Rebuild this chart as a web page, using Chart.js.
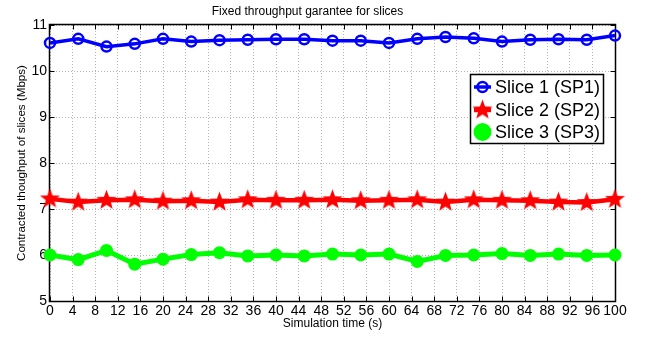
<!DOCTYPE html>
<html>
<head>
<meta charset="utf-8">
<script src="https://cdn.jsdelivr.net/npm/chart.js@4/dist/chart.umd.min.js"></script>
<style>
  body { margin: 0; background: #fff; }
</style>
</head>
<body>
<canvas id="grafico" width="651" height="337"></canvas>
<script>
const tiempos = [0, 5, 10, 15, 20, 25, 30, 35, 40, 45, 50, 55, 60, 65, 70, 75, 80, 85, 90, 95, 100];
const slice1 = [10.61, 10.70, 10.53, 10.59, 10.70, 10.64, 10.67, 10.68, 10.69, 10.69, 10.66, 10.66, 10.61, 10.70, 10.74, 10.71, 10.64, 10.68, 10.69, 10.68, 10.77];
const slice2 = [7.22, 7.15, 7.19, 7.20, 7.17, 7.18, 7.15, 7.20, 7.19, 7.19, 7.20, 7.18, 7.19, 7.20, 7.15, 7.20, 7.19, 7.18, 7.15, 7.14, 7.21];
const slice3 = [6.00, 5.90, 6.10, 5.80, 5.91, 6.01, 6.05, 5.98, 6.00, 5.98, 6.02, 6.00, 6.02, 5.86, 5.99, 6.00, 6.03, 5.99, 6.02, 5.99, 6.00];
const etiquetas = ["Slice 1 (SP1)", "Slice 2 (SP2)", "Slice 3 (SP3)"];

const FUENTE = "'Liberation Sans', Arial, sans-serif";

// estrella rellena de 5 puntas para la serie 2
function crearEstrella(r) {
  const c = document.createElement("canvas");
  const s = Math.ceil(r * 2 + 2);
  c.width = s; c.height = s;
  const g = c.getContext("2d");
  const ri = r * 0.42;
  g.beginPath();
  for (let i = 0; i < 10; i++) {
    const rad = i % 2 === 0 ? r : ri;
    const a = -Math.PI / 2 + i * Math.PI / 5;
    const px = s / 2 + rad * Math.cos(a);
    const py = s / 2 + rad * Math.sin(a);
    if (i === 0) g.moveTo(px, py); else g.lineTo(px, py);
  }
  g.closePath();
  g.fillStyle = "#ff0000";
  g.fill();
  return c;
}
const estrella = crearEstrella(10.5);

const serie = (vals) => tiempos.map((t, i) => ({ x: t, y: vals[i] }));

// marco negro con marcas hacia dentro (estilo matlab)
const marco = {
  id: "marco",
  beforeDatasetsDraw(chart) {
    const { ctx, chartArea: a, scales: { x, y } } = chart;
    const L = Math.round(a.left) - 0.5, R = Math.round(a.right) + 0.5;
    const T = Math.round(a.top) - 0.5, B = Math.round(a.bottom) + 0.5;
    ctx.save();
    ctx.strokeStyle = "#000";
    ctx.lineWidth = 1;
    ctx.beginPath();
    x.ticks.forEach(t => {
      const px = Math.round(x.getPixelForValue(t.value)) + 0.5;
      ctx.moveTo(px, B); ctx.lineTo(px, B - 5);
      ctx.moveTo(px, T); ctx.lineTo(px, T + 5);
    });
    y.ticks.forEach(t => {
      const py = Math.round(y.getPixelForValue(t.value)) + 0.5;
      ctx.moveTo(L, py); ctx.lineTo(L + 5, py);
      ctx.moveTo(R, py); ctx.lineTo(R - 5, py);
    });
    ctx.stroke();
    ctx.lineWidth = 1.5;
    ctx.strokeRect(L, T, R - L, B - T);
    ctx.restore();
  }
};

// leyenda dentro del area, como en la figura
const leyenda = {
  id: "leyenda",
  afterDraw(chart) {
    const { ctx } = chart;
    const bx = 470, by = 74, bw = 133, bh = 69;
    ctx.save();
    ctx.fillStyle = "#fff";
    ctx.fillRect(bx, by, bw, bh);
    ctx.strokeStyle = "#000";
    ctx.lineWidth = 1.5;
    ctx.strokeRect(bx + 0.5, by + 0.5, bw, bh);
    const filas = [87, 110, 132];
    chart.data.datasets.forEach((ds, i) => {
      const cy = filas[i];
      ctx.strokeStyle = ds.borderColor;
      ctx.lineWidth = ds.borderWidth;
      ctx.beginPath();
      ctx.moveTo(474, cy); ctx.lineTo(491, cy);
      ctx.stroke();
      if (ds.pointStyle === "circle") {
        ctx.beginPath();
        ctx.arc(482.5, cy, ds.pointRadius, 0, Math.PI * 2);
        ctx.fillStyle = ds.pointBackgroundColor;
        ctx.fill();
        ctx.lineWidth = ds.pointBorderWidth;
        ctx.strokeStyle = ds.pointBorderColor;
        ctx.stroke();
      } else {
        ctx.drawImage(ds.pointStyle, 482.5 - ds.pointStyle.width / 2, cy - ds.pointStyle.height / 2);
      }
      ctx.fillStyle = "#000";
      ctx.font = "18px " + FUENTE;
      ctx.textBaseline = "middle";
      ctx.textAlign = "left";
      ctx.fillText(etiquetas[i], 495, cy + 1);
    });
    ctx.restore();
  }
};

new Chart(document.getElementById("grafico"), {
  type: "line",
  data: {
    datasets: [
      {
        label: etiquetas[0],
        data: serie(slice1),
        borderColor: "#0000ff",
        borderWidth: 3.5,
        pointStyle: "circle",
        pointRadius: 5,
        pointBorderWidth: 2.5,
        pointBorderColor: "#0000ff",
        pointBackgroundColor: "rgba(255,255,255,0)",
        clip: false,
      },
      {
        label: etiquetas[1],
        data: serie(slice2),
        borderColor: "#ff0000",
        borderWidth: 4.5,
        pointStyle: estrella,
        pointRadius: 10,
        clip: false,
      },
      {
        label: etiquetas[2],
        data: serie(slice3),
        borderColor: "#00ff00",
        borderWidth: 5,
        pointStyle: "circle",
        pointRadius: 6.5,
        pointBorderWidth: 0,
        pointBorderColor: "#00ff00",
        pointBackgroundColor: "#00ff00",
        clip: false,
      },
    ],
  },
  options: {
    responsive: false,
    animation: false,
    layout: { padding: { left: 0, right: 36, top: 0, bottom: 0 } },
    scales: {
      x: {
        type: "linear",
        min: 0,
        max: 100,
        ticks: { stepSize: 4, color: "#000", padding: 2, maxRotation: 0, autoSkip: false, font: { family: FUENTE, size: 14 } },
        grid: { color: "#b4b4b4", drawTicks: false, lineWidth: 1 },
        border: { display: false, dash: [1, 2] },
        title: { display: true, text: "Simulation time (s)", color: "#000", font: { family: FUENTE, size: 12 }, padding: { top: 0, bottom: 6 } },
        afterFit: (s) => { s.height = 36; },
      },
      y: {
        min: 5,
        max: 11,
        ticks: { stepSize: 1, color: "#000", padding: 3, font: { family: FUENTE, size: 14 } },
        grid: { color: "#b4b4b4", drawTicks: false, lineWidth: 1 },
        border: { display: false, dash: [1, 2] },
        title: { display: true, text: "Contracted thoughput of slices (Mbps)", color: "#000", font: { family: FUENTE, size: 11.6 }, padding: { top: 15, bottom: 0 } },
        afterFit: (s) => { s.width = 50; },
      },
    },
    plugins: {
      legend: { display: false },
      tooltip: { enabled: false },
      title: {
        display: true,
        text: "Fixed throughput garantee for slices",
        color: "#000",
        font: { family: FUENTE, size: 12, weight: "normal" },
        padding: { top: 4, bottom: 6.6 },
      },
    },
  },
  plugins: [marco, leyenda],
});
</script>
</body>
</html>
